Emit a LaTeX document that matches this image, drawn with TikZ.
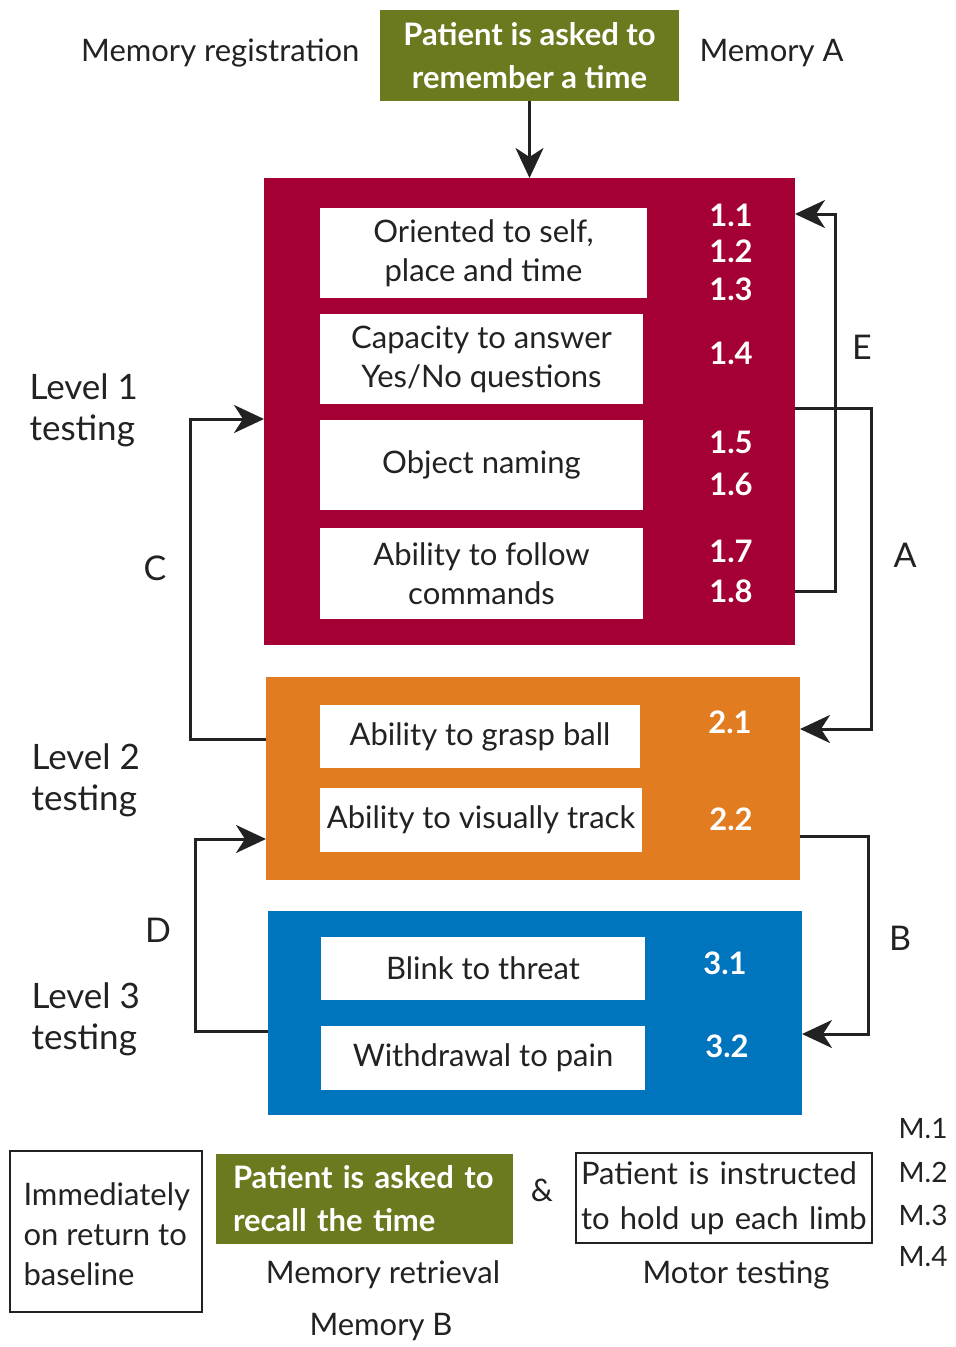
\documentclass[tikz,border=0pt]{standalone}
\usepackage{fontspec}
\setmainfont{Lato}
\usetikzlibrary{arrows.meta,calc}
\definecolor{redbox}{HTML}{A50034}
\definecolor{orangebox}{HTML}{E27C21}
\definecolor{bluebox}{HTML}{0074BD}
\definecolor{greenbox}{HTML}{6B7A1E}
\definecolor{inkc}{HTML}{222222}
\tikzset{
  box/.style={inner sep=0pt, outer sep=0pt, align=center},
  panel/.style={box, fill=#1},
  wbox/.style={box, fill=white, text=inkc, font=\fontsize{31}{39}\selectfont},
  num/.style={text=white, font=\bfseries\fontsize{31}{36}\selectfont},
  lbl/.style={text=inkc, font=\fontsize{31}{40}\selectfont, align=left},
  lvl/.style={text=inkc, font=\fontsize{35}{41}\selectfont, align=left},
  letter/.style={text=inkc, font=\fontsize{34}{40}\selectfont},
  gtext/.style={box, fill=greenbox, text=white, font=\bfseries\fontsize{31}{43}\selectfont},
  conn/.style={draw=inkc, line width=3pt, line cap=butt, line join=miter},
  arr/.style={conn, -{Stealth[length=30pt, width=28pt, inset=9pt]}},
}
\begin{document}
\begin{tikzpicture}[x=1pt, y=-1pt]
\useasboundingbox (0,0) rectangle (956,1347);
% top
\node[gtext, minimum width=299pt, minimum height=91pt] (g1) at (529.5,55.5) {Patient is asked to\\remember a time};
\node[lbl, anchor=east] (mreg) at (363,53) {Memory registration};
\node[lbl, anchor=west] (mA) at (696,53) {Memory A};
% red panel
\node[panel=redbox, minimum width=531pt, minimum height=467pt] (red) at (529.5,411.5) {};
\node[wbox, minimum width=327pt, minimum height=90pt] (w1) at (483.5,253) {Oriented to self,\\place and time};
\node[wbox, minimum width=323pt, minimum height=90pt] (w2) at (481.5,359) {Capacity to answer\\Yes/No questions};
\node[wbox, minimum width=323pt, minimum height=90pt] (w3) at (481.5,465) {Object naming};
\node[wbox, minimum width=323pt, minimum height=91pt] (w4) at (481.5,573.5) {Ability to follow\\commands};
\node[num] (n11) at (731,215) {1.1};
\node[num] (n12) at (731,251) {1.2};
\node[num] (n13) at (731,289) {1.3};
\node[num] (n14) at (731,353) {1.4};
\node[num] (n15) at (731,442) {1.5};
\node[num] (n16) at (731,484) {1.6};
\node[num] (n17) at (731,551) {1.7};
\node[num] (n18) at (731,591) {1.8};
% orange panel
\node[panel=orangebox, minimum width=534pt, minimum height=203pt] (org) at (533,778.5) {};
\node[wbox, minimum width=320pt, minimum height=63pt] (o1) at (480,736.5) {Ability to grasp ball};
\node[wbox, minimum width=322pt, minimum height=64pt] (o2) at (481,820) {Ability to visually track};
\node[num] (n21) at (730,722) {2.1};
\node[num] (n22) at (731,819) {2.2};
% blue panel
\node[panel=bluebox, minimum width=534pt, minimum height=204pt] (blu) at (535,1013) {};
\node[wbox, minimum width=324pt, minimum height=63pt] (b1) at (483,968.5) {Blink to threat};
\node[wbox, minimum width=324pt, minimum height=64pt] (b2) at (483,1058) {Withdrawal to pain};
\node[num] (n31) at (725,963) {3.1};
\node[num] (n32) at (727,1046) {3.2};
% level labels
\node[lvl, anchor=west] (L1) at (26,410) {Level 1\\testing};
\node[lvl, anchor=west] (L2) at (28,780) {Level 2\\testing};
\node[lvl, anchor=west] (L3) at (28,1019) {Level 3\\testing};
% letters
\node[letter] (lE) at (862,347) {E};
\node[letter] (lA) at (905,555) {A};
\node[letter] (lC) at (155,568) {C};
\node[letter] (lB) at (900,938) {B};
\node[letter] (lD) at (158,930) {D};
% connector waypoints
\coordinate (xE) at (835,0);
\coordinate (xA) at (871,0);
\coordinate (xC) at (190,0);
\coordinate (xB) at (868,0);
\coordinate (xD) at (195,0);
\coordinate (yA) at (0,408);
\coordinate (yAin) at (0,729);
\coordinate (yC) at (0,739);
\coordinate (yCin) at (0,419);
\coordinate (yB) at (0,836);
\coordinate (yBin) at (0,1034);
\coordinate (yD) at (0,1031);
\coordinate (yDin) at (0,839);
\coordinate (yE) at (0,591);
\coordinate (yEin) at (0,214);
% connectors
\draw[arr] (g1.south) -- (red.north);
\draw[arr] (red.east |- yE) -| (xE |- yEin) -- (red.east |- yEin);
\draw[arr] (red.east |- yA) -| (xA |- yAin) -- (org.east |- yAin);
\draw[arr] (org.west |- yC) -| (xC |- yCin) -- (red.west |- yCin);
\draw[arr] (org.east |- yB) -| (xB |- yBin) -- (blu.east |- yBin);
\draw[arr] (blu.west |- yD) -| (xD |- yDin) -- (org.west |- yDin);
% bottom row
\node[box, draw=inkc, line width=2pt, minimum width=192pt, minimum height=161pt] (imm) at (106,1231.5) {};
\node[lbl, anchor=west] (immt) at (20,1234) {Immediately\\on return to\\baseline};
\node[gtext, minimum width=297pt, minimum height=90pt, text width=263pt, inner xsep=17pt, align=left] (g2) at (364.5,1199) {Patient is asked to\\recall the time};
\node[lbl] (amp) at (542,1190) {\&};
\node[box, draw=inkc, line width=2pt, minimum width=296pt, minimum height=90pt, text width=286pt, align=left, text=inkc, font=\fontsize{31}{45}\selectfont] (mot) at (724,1198) {Patient is instructed\\to hold up each limb};
\node[lbl, align=center] (mret) at (383,1275) {Memory retrieval};
\node[lbl, align=center] (mtest) at (736,1275) {Motor testing};
\node[lbl, align=center] (mB) at (381,1327) {Memory B};
\node[lbl, anchor=east, font=\fontsize{28}{34}\selectfont] (m1) at (951,1129) {M.1};
\node[lbl, anchor=east, font=\fontsize{28}{34}\selectfont] (m2) at (951,1172) {M.2};
\node[lbl, anchor=east, font=\fontsize{28}{34}\selectfont] (m3) at (951,1215) {M.3};
\node[lbl, anchor=east, font=\fontsize{28}{34}\selectfont] (m4) at (951,1257) {M.4};
\end{tikzpicture}
\end{document}
